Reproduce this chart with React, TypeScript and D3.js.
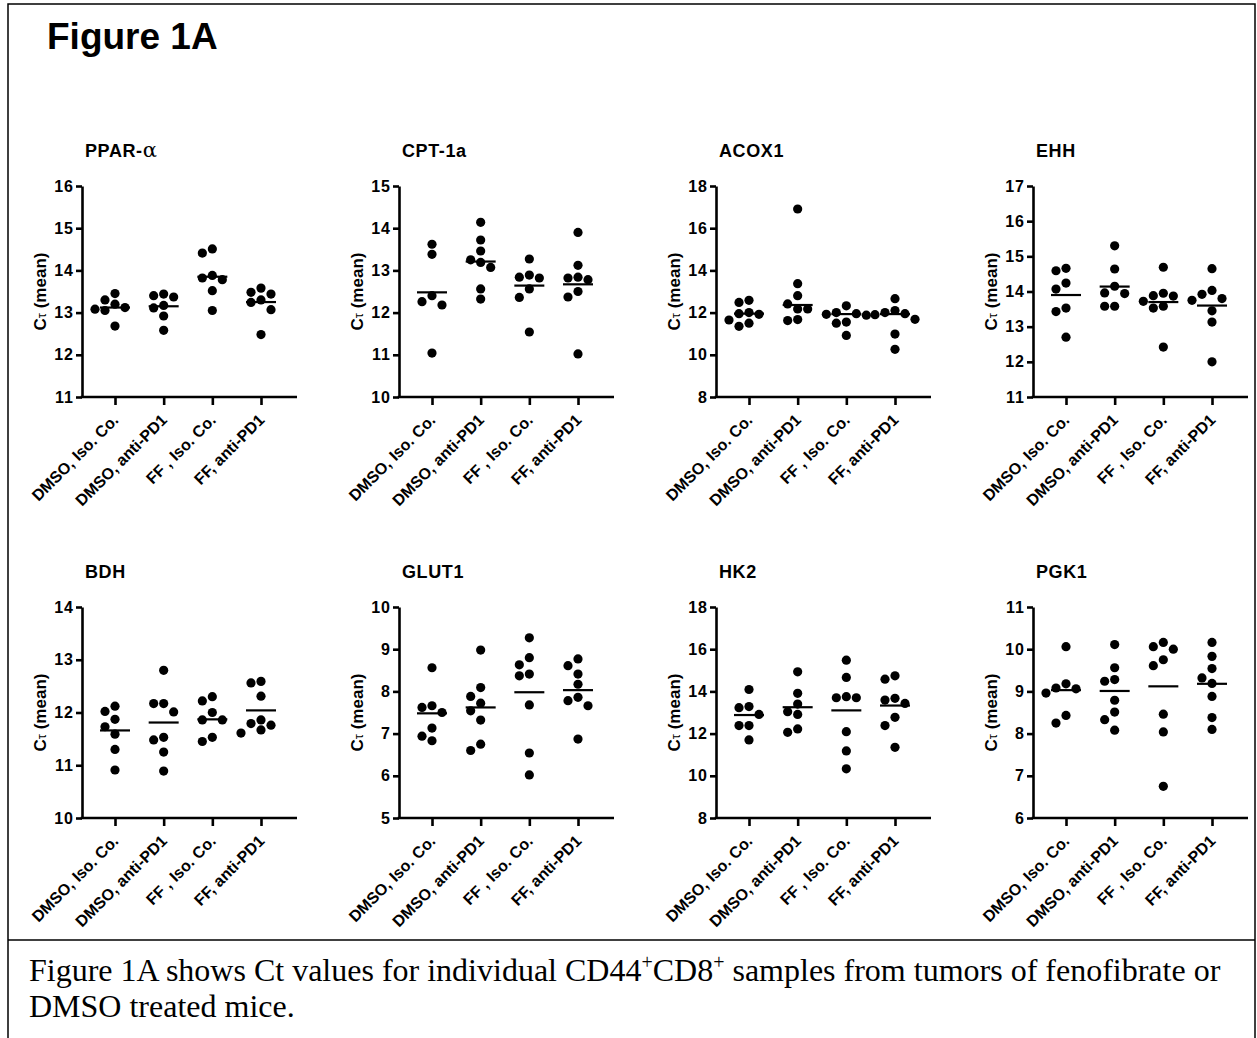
import React, { useEffect, useRef } from "react";
import * as d3 from "d3";

const groups = ["DMSO, Iso. Co.", "DMSO, anti-PD1", "FF , Iso. Co.", "FF, anti-PD1"];
const genes = ["PPAR-", "CPT-1a", "ACOX1", "EHH", "BDH", "GLUT1", "HK2", "PGK1"];
const yMins = [11, 10, 8, 11, 10, 5, 8, 6];
const yMaxs = [16, 15, 18, 17, 14, 10, 18, 11];
const ySteps = [1, 1, 2, 1, 1, 1, 2, 1];

// Ct values per group
const pparA = [
  [13.45, 13.3, 13.2, 13.12, 13.08, 13.05, 12.68],
  [13.44, 13.4, 13.37, 13.17, 13.11, 12.92, 12.58],
  [14.51, 14.41, 13.88, 13.82, 13.78, 13.52, 13.05],
  [13.58, 13.48, 13.44, 13.3, 13.24, 13.07, 12.48],
];
const cpt1a = [
  [13.62, 13.38, 12.4, 12.26, 12.18, 11.04],
  [14.14, 13.72, 13.46, 13.25, 13.19, 13.07, 12.56, 12.32],
  [13.27, 12.89, 12.84, 12.82, 12.56, 12.36, 11.54],
  [13.9, 13.12, 12.84, 12.82, 12.78, 12.5, 12.37, 11.02],
];
const acox1 = [
  [12.58, 12.48, 12.0, 11.95, 11.92, 11.65, 11.5, 11.35],
  [16.91, 13.37, 12.8, 12.41, 12.17, 12.17, 11.67, 11.62],
  [12.32, 12.0, 11.95, 11.92, 11.88, 11.55, 11.5, 10.92],
  [12.66, 12.1, 12.0, 11.95, 11.9, 11.68, 10.98, 10.26],
];
const ehh = [
  [14.66, 14.59, 14.24, 14.07, 13.53, 13.43, 12.7],
  [15.3, 14.64, 14.15, 13.96, 13.94, 13.58, 13.58],
  [14.69, 13.95, 13.88, 13.87, 13.72, 13.58, 13.53, 12.42],
  [14.65, 14.03, 13.92, 13.8, 13.75, 13.45, 13.13, 12.0],
];
const bdh = [
  [12.12, 12.02, 11.87, 11.73, 11.59, 11.3, 10.91],
  [12.8, 12.17, 12.17, 12.01, 11.53, 11.48, 11.25, 10.89],
  [12.3, 12.22, 12.0, 11.86, 11.86, 11.53, 11.45],
  [12.59, 12.56, 12.31, 11.86, 11.79, 11.76, 11.67, 11.61],
];
const glut1 = [
  [8.56, 7.66, 7.62, 7.5, 7.13, 6.94, 6.83],
  [8.98, 8.09, 7.88, 7.72, 7.54, 7.32, 6.75, 6.6],
  [9.27, 8.8, 8.63, 8.41, 8.37, 7.68, 6.54, 6.02],
  [8.77, 8.61, 8.41, 8.17, 7.86, 7.78, 7.66, 6.87],
];
const hk2 = [
  [14.09, 13.28, 13.23, 12.91, 12.38, 12.38, 11.7],
  [14.93, 13.91, 13.4, 13.04, 12.91, 12.22, 12.06],
  [15.48, 14.66, 13.75, 13.7, 13.7, 12.09, 11.18, 10.33],
  [14.74, 14.58, 13.67, 13.59, 13.43, 12.77, 12.38, 11.35],
];
const pgk1 = [
  [10.06, 9.18, 9.08, 9.06, 8.96, 8.43, 8.25],
  [10.11, 9.56, 9.28, 9.24, 8.79, 8.51, 8.33, 8.08],
  [10.16, 10.06, 10.0, 9.75, 9.61, 8.46, 8.04, 6.75],
  [10.16, 9.83, 9.54, 9.32, 9.19, 8.88, 8.38, 8.1],
];

// horizontal line in each column, as drawn
const centerLines = [
  [13.12, 13.15, 13.85, 13.25],
  [12.48, 13.21, 12.64, 12.67],
  [11.95, 12.36, 11.93, 11.93],
  [13.9, 14.14, 13.7, 13.6],
  [11.66, 11.81, 11.87, 12.04],
  [7.48, 7.62, 7.98, 8.03],
  [12.88, 13.25, 13.1, 13.33],
  [9.03, 9.01, 9.12, 9.18],
];

const allData = [pparA, cpt1a, acox1, ehh, bdh, glut1, hk2, pgk1];

const SANS = "'Liberation Sans', Arial, Helvetica, sans-serif";

// spread points that would overlap, like a scatter dot plot
function swarm(values: number[], y: (v: number) => number, step: number, minDist: number) {
  const order = values.map((v, i) => i).sort((a, b) => values[b] - values[a]);
  const placed: { x: number; y: number; v: number }[] = [];
  const slots = [0, -1, 1, -2, 2, -3, 3, -4, 4];
  order.forEach((i) => {
    const py = y(values[i]);
    for (const s of slots) {
      const px = s * step;
      if (placed.every((p) => Math.hypot(p.x - px, p.y - py) >= minDist)) {
        placed.push({ x: px, y: py, v: values[i] });
        break;
      }
    }
  });
  return placed;
}

function App() {
  const svgRef = useRef<SVGSVGElement>(null);

  useEffect(() => {
    const svg = d3.select(svgRef.current);
    svg.selectAll("*").remove();

    const plotW = 215;
    const plotH = 211;

    // outer frame + caption box
    svg
      .append("rect")
      .attr("x", 8)
      .attr("y", 4)
      .attr("width", 1247)
      .attr("height", 1060)
      .attr("fill", "none")
      .attr("stroke", "#000")
      .attr("stroke-width", 1.5);
    svg
      .append("line")
      .attr("x1", 8)
      .attr("x2", 1255)
      .attr("y1", 940)
      .attr("y2", 940)
      .attr("stroke", "#000")
      .attr("stroke-width", 1.5);

    svg
      .append("text")
      .attr("x", 47)
      .attr("y", 49)
      .attr("font-family", SANS)
      .attr("font-weight", "bold")
      .attr("font-size", 37)
      .text("Figure 1A");

    allData.forEach((data, i) => {
      const col = i % 4;
      const row = Math.floor(i / 4);
      const g = svg
        .append("g")
        .attr("transform", `translate(${82 + col * 317},${186 + row * 421})`);

      const y = d3.scaleLinear().domain([yMins[i], yMaxs[i]]).range([plotH, 0]);
      const x = d3.scalePoint().domain(groups).range([33, 179]);
      const ticks = d3.range(yMins[i], yMaxs[i] + ySteps[i] / 2, ySteps[i]);

      // title
      const title = g
        .append("text")
        .attr("x", 3)
        .attr("y", -29)
        .attr("font-family", SANS)
        .attr("font-weight", "bold")
        .attr("font-size", 18)
        .attr("letter-spacing", 0.6)
        .text(genes[i]);
      if (i === 0) {
        title
          .append("tspan")
          .attr("font-family", "'DejaVu Serif', serif")
          .attr("font-weight", "normal")
          .attr("font-size", 21)
          .text("α");
      }

      // y axis
      const yAxis = g
        .append("g")
        .call(
          d3
            .axisLeft(y)
            .tickValues(ticks)
            .tickFormat(d3.format("d"))
            .tickSize(6)
            .tickSizeOuter(0)
            .tickPadding(2)
        );
      yAxis.select(".domain").attr("stroke-width", 2.6);
      yAxis.selectAll(".tick line").attr("stroke-width", 2.6);
      yAxis
        .selectAll(".tick text")
        .attr("font-family", SANS)
        .attr("font-weight", "bold")
        .attr("font-size", 16)
        .attr("letter-spacing", 1)
        .attr("fill", "#000");

      // y label
      const yl = g
        .append("text")
        .attr("transform", `translate(-36,${plotH / 2}) rotate(-90)`)
        .attr("text-anchor", "middle")
        .attr("font-family", SANS)
        .attr("font-weight", "bold")
        .attr("font-size", 17);
      yl.append("tspan").text("C");
      yl.append("tspan").attr("font-size", 13).attr("font-weight", "normal").text("τ");
      yl.append("tspan").text(" (mean)");

      // x axis
      const xg = g.append("g").attr("transform", `translate(0,${plotH})`);
      xg.append("line")
        .attr("x1", -1.3)
        .attr("x2", plotW)
        .attr("stroke", "#000")
        .attr("stroke-width", 2.6);
      xg.call(d3.axisBottom(x).tickSize(8).tickSizeOuter(0));
      xg.select(".domain").remove();
      xg.selectAll(".tick line").attr("stroke-width", 2.6);
      xg.selectAll(".tick text")
        .attr("x", 0)
        .attr("y", 0)
        .attr("dy", 0)
        .attr("transform", "translate(4,24) rotate(-45)")
        .attr("text-anchor", "end")
        .attr("font-family", SANS)
        .attr("font-weight", "bold")
        .attr("font-size", 16)
        .attr("fill", "#000");

      // dots + center lines
      data.forEach((vals, k) => {
        const cx = x(groups[k]) as number;
        const pts = swarm(vals, y, 10, 10);
        g.append("g")
          .selectAll("circle")
          .data(pts)
          .join("circle")
          .attr("cx", (d) => cx + d.x)
          .attr("cy", (d) => d.y)
          .attr("r", 4.6)
          .attr("fill", "#000");
        g.append("line")
          .attr("x1", cx - 15)
          .attr("x2", cx + 15)
          .attr("y1", y(centerLines[i][k]))
          .attr("y2", y(centerLines[i][k]))
          .attr("stroke", "#000")
          .attr("stroke-width", 2.2);
      });
    });

    // caption
    const cap = svg
      .append("g")
      .attr("font-family", "'Liberation Serif', 'Times New Roman', serif")
      .attr("font-size", 32)
      .attr("fill", "#000");
    const l1 = cap.append("text").attr("x", 29).attr("y", 981);
    l1.append("tspan").text("Figure 1A shows Ct values for individual CD44");
    l1.append("tspan").attr("font-size", 20).attr("dy", -12).text("+");
    l1.append("tspan").attr("dy", 12).text("CD8");
    l1.append("tspan").attr("font-size", 20).attr("dy", -12).text("+");
    l1.append("tspan").attr("dy", 12).text(" samples from tumors of fenofibrate or");
    cap.append("text").attr("x", 29).attr("y", 1017).text("DMSO treated mice.");
  }, []);

  return (
    <div>
      <svg
        ref={svgRef}
        width={1257}
        height={1038}
        style={{ position: "absolute", left: 0, top: 0, background: "#fff" }}
      ></svg>
    </div>
  );
}

export default App;
